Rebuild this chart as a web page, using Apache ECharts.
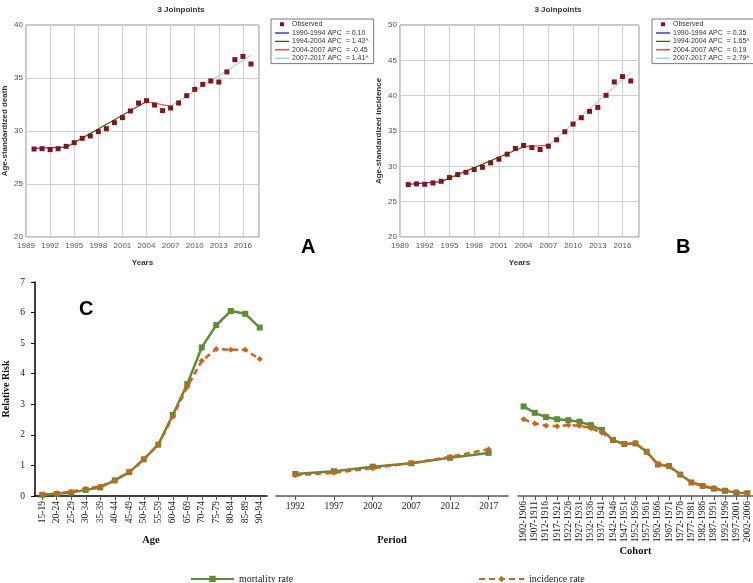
<!DOCTYPE html>
<html>
<head>
<meta charset="utf-8">
<script src="https://cdn.jsdelivr.net/npm/echarts@6/dist/echarts.min.js"></script>
<style>
html,body{margin:0;padding:0;background:#fff;}
#chart{width:753px;height:583px;}
</style>
</head>
<body>
<div id="chart"></div>
<script>
// ---------- Panel A / B data ----------
const years = [1990,1991,1992,1993,1994,1995,1996,1997,1998,1999,2000,2001,2002,2003,2004,2005,2006,2007,2008,2009,2010,2011,2012,2013,2014,2015,2016,2017];
const deathObserved = [28.30,28.33,28.24,28.33,28.55,28.90,29.31,29.53,29.94,30.22,30.79,31.26,31.89,32.64,32.86,32.45,31.92,32.17,32.64,33.33,33.93,34.40,34.72,34.62,35.57,36.73,37.04,36.32];
const incObserved = [27.41,27.51,27.46,27.65,27.88,28.41,28.83,29.16,29.54,29.87,30.49,31.01,31.72,32.52,32.95,32.66,32.38,32.85,33.75,34.89,35.98,36.88,37.78,38.34,40.05,41.94,42.70,42.08];
const joinYears = [1990,1994,2004,2007,2017];
const deathFit = [28.36,28.47,32.78,32.33,37.15];
const incFit = [27.45,27.83,32.78,32.97,43.30];
const deathSegLabels = ['1990-1994 APC  = 0.10','1994-2004 APC  = 1.42^','2004-2007 APC  = -0.45','2007-2017 APC  = 1.41^'];
const incSegLabels = ['1990-1994 APC  = 0.35','1994-2004 APC  = 1.65^','2004-2007 APC  = 0.19','2007-2017 APC  = 2.79^'];
const segColors = ['#3a3ae6','#1a6b1a','#ef4a4a','#8fe0dc'];
const yearTicks = ['1989','1992','1995','1998','2001','2004','2007','2010','2013','2016'];

// ---------- Panel C data ----------
const ageGroups = ['15-19','20-24','25-29','30-34','35-39','40-44','45-49','50-54','55-59','60-64','65-69','70-74','75-79','80-84','85-89','90-94'];
const ageMort = [0.04,0.07,0.11,0.20,0.28,0.51,0.78,1.20,1.68,2.65,3.66,4.86,5.59,6.05,5.96,5.51];
const ageInc  = [0.05,0.09,0.14,0.24,0.31,0.51,0.78,1.20,1.68,2.59,3.57,4.42,4.81,4.78,4.78,4.48];
const periods = ['1992','1997','2002','2007','2012','2017'];
const periodMort = [0.72,0.81,0.96,1.07,1.25,1.41];
const periodInc  = [0.68,0.76,0.91,1.07,1.28,1.53];
const cohorts = ['1902-1906','1907-1911','1912-1916','1917-1921','1922-1926','1927-1931','1932-1936','1937-1941','1942-1946','1947-1951','1952-1956','1957-1961','1962-1966','1967-1971','1972-1976','1977-1981','1982-1986','1987-1991','1992-1996','1997-2001','2002-2006'];
const cohortMort = [2.93,2.72,2.58,2.51,2.48,2.43,2.32,2.16,1.83,1.70,1.72,1.45,1.03,0.98,0.70,0.44,0.33,0.24,0.17,0.11,0.09];
const cohortInc  = [2.51,2.37,2.30,2.28,2.32,2.30,2.22,2.07,1.82,1.69,1.73,1.43,1.04,0.97,0.70,0.45,0.33,0.26,0.19,0.13,0.10];

const GREEN = '#5b8f36';
const ORANGE = '#d0621c';
const OBS = '#8b1118';
const SANS = 'Liberation Sans, Arial, sans-serif';
const SERIF = 'Liberation Serif, Times New Roman, serif';

const chart = echarts.init(document.getElementById('chart'), null, {renderer: 'canvas'});

function topGrid(left, width) {
  return {left: left, top: 25, width: width, height: 212, show: true, borderColor: '#8a8a8a', borderWidth: 1, backgroundColor: '#fff'};
}
function topXAxis(gi) {
  return {
    type: 'value', gridIndex: gi, min: 1989, max: 2018, interval: 3,
    name: 'Years', nameLocation: 'middle', nameGap: 22,
    nameTextStyle: {fontFamily: SANS, fontWeight: 'bold', fontSize: 8, color: '#333'},
    axisLine: {show: false}, axisTick: {show: false},
    axisLabel: {fontFamily: SANS, fontSize: 8, color: '#555', margin: 5, showMaxLabel: false,
      formatter: v => (yearTicks.indexOf(String(v)) >= 0 ? String(v) : '')},
    splitLine: {show: true, lineStyle: {color: '#cfcfcf', width: 1}}
  };
}
function topYAxis(gi, name, min, max) {
  return {
    type: 'value', gridIndex: gi, min: min, max: max, interval: 5,
    name: name, nameLocation: 'middle', nameGap: 17,
    nameTextStyle: {fontFamily: SANS, fontWeight: 'bold', fontSize: 8, color: '#333'},
    axisLine: {show: false}, axisTick: {show: false},
    axisLabel: {fontFamily: SANS, fontSize: 8, color: '#555', margin: 3},
    splitLine: {show: true, lineStyle: {color: '#cfcfcf', width: 1}}
  };
}

const series = [];
function addTop(gi, observed, fit, labels) {
  series.push({
    name: 'Observed', type: 'scatter', xAxisIndex: gi, yAxisIndex: gi,
    symbol: 'rect', symbolSize: 5,
    itemStyle: {color: OBS, opacity: 1},
    data: years.map((y, i) => [y, observed[i]]), z: 5
  });
  for (let s = 0; s < 4; s++) {
    series.push({
      name: labels[s], type: 'line', xAxisIndex: gi, yAxisIndex: gi,
      symbol: 'none', showSymbol: false,
      lineStyle: {color: segColors[s], width: 1.2},
      itemStyle: {color: segColors[s]},
      data: [[joinYears[s], fit[s]], [joinYears[s + 1], fit[s + 1]]], z: 3
    });
  }
}
addTop(0, deathObserved, deathFit, deathSegLabels);
addTop(1, incObserved, incFit, incSegLabels);

// Panel C
function bottomX(gi, cats, name, rotate, gap) {
  return {
    type: 'category', gridIndex: gi, data: cats, boundaryGap: true,
    name: name, nameLocation: 'middle', nameGap: gap,
    nameTextStyle: {fontFamily: SERIF, fontWeight: 'bold', fontSize: 10.5, color: '#111'},
    axisLine: {show: true, lineStyle: {color: gi === 2 ? '#000' : '#555', width: 1.5}},
    axisTick: {show: true, alignWithLabel: true, length: 4, lineStyle: {color: '#555'}},
    axisLabel: {interval: 0, rotate: rotate, fontFamily: SERIF, fontSize: 9.5, color: '#222', margin: 5},
    splitLine: {show: false}
  };
}
function bottomY(gi, show) {
  return {
    type: 'value', gridIndex: gi, min: 0, max: 7, interval: 1,
    name: show ? 'Relative Risk' : '', nameLocation: 'middle', nameGap: 24,
    nameTextStyle: {fontFamily: SERIF, fontWeight: 'bold', fontSize: 10, color: '#111'},
    axisLine: {show: show, lineStyle: {color: '#000', width: 1.5}},
    axisTick: {show: show, length: 4, lineStyle: {color: '#000'}},
    axisLabel: {show: show, fontFamily: SERIF, fontSize: 9.5, color: '#222', margin: 10},
    splitLine: {show: false}
  };
}
function addBottom(gi, mort, inc) {
  series.push({
    name: 'mortality rate', type: 'line', xAxisIndex: gi, yAxisIndex: gi,
    symbol: 'rect', symbolSize: 6, showSymbol: true,
    lineStyle: {color: GREEN, width: 2.5}, itemStyle: {color: GREEN},
    data: mort, z: 3
  });
  series.push({
    name: 'incidence rate', type: 'line', xAxisIndex: gi, yAxisIndex: gi,
    symbol: 'diamond', symbolSize: 6, showSymbol: true,
    lineStyle: {color: ORANGE, width: 2.5, type: [6, 4]}, itemStyle: {color: ORANGE},
    data: inc, z: 4
  });
}
addBottom(2, ageMort, ageInc);
addBottom(3, periodMort, periodInc);
addBottom(4, cohortMort, cohortInc);

// small centred square icon (degenerate sub-paths keep the 14x7 bounding box)
const OBS_ICON = 'path://M0,0L0.01,0M14,7L14.01,7M5,1.2h4v4h-4z';
// thin horizontal line icon
const LINE_ICON = 'path://M0,0L0.01,0M14,7L14.01,7M0,2.9h14v1.4h-14z';

const topLegendCommon = {
  orient: 'vertical', top: 19, itemGap: 1.4, itemWidth: 14, itemHeight: 7,
  padding: [2, 5, 2, 4], borderColor: '#7a7a7a', borderWidth: 1, backgroundColor: '#fff',
  textStyle: {fontFamily: SANS, fontSize: 7, color: '#333', padding: [0, 0, 0, -2]},
  selectedMode: false
};
function legendItems(labels) {
  return [{name: 'Observed', icon: OBS_ICON, itemStyle: {color: OBS}}]
    .concat(labels.map((n, i) => ({name: n, icon: LINE_ICON, itemStyle: {color: segColors[i]}})));
}

const option = {
  animation: false,
  backgroundColor: '#fff',
  grid: [
    topGrid(26, 233),
    topGrid(400, 239),
    {left: 34, top: 282, width: 233, height: 214},
    {left: 276, top: 282, width: 232, height: 214},
    {left: 518, top: 282, width: 235, height: 214}
  ],
  xAxis: [topXAxis(0), topXAxis(1), bottomX(2, ageGroups, 'Age', 90, 39), bottomX(3, periods, 'Period', 0, 39), bottomX(4, cohorts, 'Cohort', 90, 42)],
  yAxis: [topYAxis(0, 'Age-standardized death', 20, 40), topYAxis(1, 'Age-standardized incidence', 20, 50), bottomY(2, true), bottomY(3, false), bottomY(4, false)],
  legend: [
    Object.assign({}, topLegendCommon, {left: 271, data: legendItems(deathSegLabels)}),
    Object.assign({}, topLegendCommon, {left: 652, data: legendItems(incSegLabels)}),
    {left: 185, top: 569, itemWidth: 43, itemHeight: 8, selectedMode: false,
     textStyle: {fontFamily: SERIF, fontSize: 10, color: '#222'}, data: ['mortality rate']},
    {left: 473, top: 569, itemWidth: 45, itemHeight: 8, selectedMode: false,
     textStyle: {fontFamily: SERIF, fontSize: 10, color: '#222'}, data: ['incidence rate']}
  ],
  title: [
    {text: '3 Joinpoints', left: 176, top: 1, textAlign: 'center', textStyle: {fontFamily: SANS, fontWeight: 'bold', fontSize: 8, color: '#333'}},
    {text: '3 Joinpoints', left: 553, top: 1, textAlign: 'center', textStyle: {fontFamily: SANS, fontWeight: 'bold', fontSize: 8, color: '#333'}},
    {text: 'A', left: 296, top: 232, textStyle: {fontFamily: SANS, fontWeight: 'bold', fontSize: 20, color: '#000'}},
    {text: 'B', left: 671, top: 232, textStyle: {fontFamily: SANS, fontWeight: 'bold', fontSize: 20, color: '#000'}},
    {text: 'C', left: 74, top: 294, textStyle: {fontFamily: SANS, fontWeight: 'bold', fontSize: 20, color: '#000'}}
  ],
  series: series
};
chart.setOption(option);
</script>
</body>
</html>
